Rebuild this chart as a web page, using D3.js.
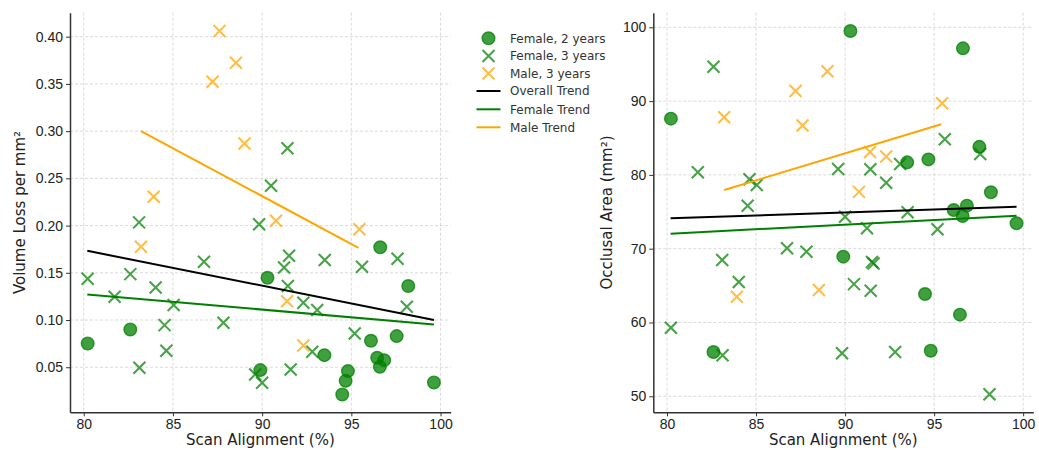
<!DOCTYPE html>
<html>
<head>
<meta charset="utf-8">
<script src="https://cdn.jsdelivr.net/npm/d3@7"></script>
<style>
  body { margin: 0; background: #fff; }
  svg { display: block; font-family: "DejaVu Sans", sans-serif; }
  .grid line { stroke: #d0d0d0; stroke-dasharray: 3,2; stroke-width: 0.8; }
  .axis path, .axis line { stroke: #333; }
  .axis text { fill: #222; font-size: 14px; }
</style>
</head>
<body>
<svg id="chart" width="1039" height="450"></svg>
<script>
// Female, 2 years
const femaleTwoX    = [80.22, 82.61, 89.90, 90.30, 93.49, 94.49, 94.68, 94.81, 96.10, 96.45, 96.60, 96.62, 96.84, 97.54, 98.19, 99.63];
const femaleTwoVol  = [0.0752, 0.0900, 0.0470, 0.1447, 0.0628, 0.0212, 0.0356, 0.0459, 0.0780, 0.0600, 0.0504, 0.1770, 0.0575, 0.0830, 0.1360, 0.0339];
const femaleTwoArea = [87.62, 56.0, 68.92, 99.5, 81.7, 63.86, 82.1, 56.18, 75.24, 61.06, 74.43, 97.15, 75.83, 83.8, 77.64, 73.44];

// Female, 3 years
const femaleThreeX    = [80.22, 81.73, 82.61, 83.10, 83.12, 84.03, 84.53, 84.63, 85.04, 86.74, 87.83, 89.61, 89.83, 90.00, 90.50, 91.23, 91.42, 91.44, 91.51, 91.60, 92.31, 92.81, 93.09, 93.51, 95.19, 95.60, 97.59, 98.11];
const femaleThreeVol  = [0.1437, 0.1246, 0.1486, 0.2034, 0.0494, 0.1345, 0.0946, 0.0674, 0.1158, 0.1617, 0.0970, 0.0424, 0.2013, 0.0335, 0.2422, 0.1557, 0.2818, 0.1360, 0.1680, 0.0477, 0.1182, 0.0663, 0.1105, 0.1635, 0.0858, 0.1564, 0.1650, 0.1140];
const femaleThreeArea = [59.3, 80.35, 94.66, 68.47, 55.55, 65.5, 75.83, 79.4, 78.63, 70.05, 69.6, 80.8, 55.83, 74.34, 65.2, 72.76, 80.76, 64.3, 68.2, 68.0, 78.94, 56.0, 81.48, 74.93, 72.63, 84.82, 82.83, 50.27];

// Male, 3 years
const maleThreeX    = [83.21, 87.22, 87.61, 89.01, 95.45, 91.40, 92.31, 90.78, 83.92, 88.53];
const maleThreeVol  = [0.1775, 0.3523, 0.4060, 0.2870, 0.1960, 0.1200, 0.0731, 0.2050, 0.2305, 0.3725];
const maleThreeArea = [87.8, 91.37, 86.7, 94.04, 89.7, 83.1, 82.5, 77.7, 63.5, 64.4];

// Trend lines (start / end)
const trendNames     = ["Overall Trend", "Female Trend", "Male Trend"];
const trendX         = [[80.2, 99.63], [80.2, 99.63], [83.21, 95.4]];
const trendVol       = [[0.1733, 0.1000], [0.1271, 0.0953], [0.3000, 0.1765]];
const trendArea      = [[74.12, 75.70], [72.03, 74.47], [77.95, 86.86]];
const trendColors    = ["#000000", "#008000", "#ffa500"];

const volTicks  = [0.05, 0.10, 0.15, 0.20, 0.25, 0.30, 0.35, 0.40];
const areaTicks = [50, 60, 70, 80, 90, 100];
const xTicks    = [80, 85, 90, 95, 100];

const svg = d3.select("#chart");

const groups = [
  { name: "Female, 2 years", x: femaleTwoX, vol: femaleTwoVol, area: femaleTwoArea, shape: "circle", color: "#008000" },
  { name: "Female, 3 years", x: femaleThreeX, vol: femaleThreeVol, area: femaleThreeArea, shape: "x", color: "#008000" },
  { name: "Male, 3 years", x: maleThreeX, vol: maleThreeVol, area: maleThreeArea, shape: "x", color: "#ffa500" }
];

function xMark(s) {
  return `M${-s},${-s}L${s},${s}M${-s},${s}L${s},${-s}`;
}

function drawMarker(sel, shape, color) {
  if (shape === "circle") {
    sel.append("circle")
      .attr("r", 6.3)
      .attr("fill", color).attr("fill-opacity", 0.75)
      .attr("stroke", color).attr("stroke-opacity", 0.75)
      .attr("stroke-width", 1.4);
  } else {
    sel.append("path")
      .attr("d", xMark(6))
      .attr("fill", "none")
      .attr("stroke", color).attr("stroke-opacity", 0.72)
      .attr("stroke-width", 2.1);
  }
}

// Draws one scatter panel
function drawPanel(left, right, key, yDomain, yTicks, yFormat, yLabel, labelX, trendKey) {
  const top = 12.7, bottom = 412.3;
  const x = d3.scaleLinear().domain([79.23, 100.57]).range([left, right]);
  const y = d3.scaleLinear().domain(yDomain).range([bottom, top]);
  const g = svg.append("g");

  // grid
  const grid = g.append("g").attr("class", "grid");
  grid.selectAll(".vx").data(xTicks).enter().append("line")
    .attr("x1", d => x(d)).attr("x2", d => x(d))
    .attr("y1", top).attr("y2", bottom);
  grid.selectAll(".hy").data(yTicks).enter().append("line")
    .attr("x1", left).attr("x2", right)
    .attr("y1", d => y(d)).attr("y2", d => y(d));

  // axes (left + bottom spines only)
  const xAxis = g.append("g").attr("class", "axis")
    .attr("transform", `translate(0,${bottom})`)
    .call(d3.axisBottom(x).tickValues(xTicks).tickSizeInner(4).tickSizeOuter(0).tickPadding(3).tickFormat(d3.format("d")));
  const yAxis = g.append("g").attr("class", "axis")
    .attr("transform", `translate(${left},0)`)
    .call(d3.axisLeft(y).tickValues(yTicks).tickSizeInner(4).tickSizeOuter(0).tickPadding(3).tickFormat(yFormat));
  [xAxis, yAxis].forEach(a => {
    a.select(".domain").attr("stroke-width", 1.5);
    a.selectAll(".tick line").attr("stroke-width", 1);
  });

  // labels
  g.append("text")
    .attr("x", (left + right) / 2).attr("y", 445)
    .attr("text-anchor", "middle")
    .attr("font-size", 15).attr("fill", "#222")
    .text("Scan Alignment (%)");
  g.append("text")
    .attr("transform", `translate(${labelX},${(top + bottom) / 2}) rotate(-90)`)
    .attr("text-anchor", "middle")
    .attr("font-size", 15).attr("fill", "#222")
    .text(yLabel);

  // scatter
  groups.forEach(grp => {
    const pts = grp.x.map((v, i) => [v, grp[key][i]]);
    const m = g.append("g").selectAll("g").data(pts).enter().append("g")
      .attr("transform", d => `translate(${x(d[0])},${y(d[1])})`);
    drawMarker(m, grp.shape, grp.color);
  });

  // trends
  const line = d3.line().x(d => x(d[0])).y(d => y(d[1]));
  trendNames.forEach((n, i) => {
    const pts = trendX[i].map((v, j) => [v, trendKey[i][j]]);
    g.append("path")
      .attr("d", line(pts))
      .attr("fill", "none")
      .attr("stroke", trendColors[i])
      .attr("stroke-width", 2);
  });
}

drawPanel(70, 450.7, "vol", [0.0023, 0.4254], volTicks, d3.format(".2f"), "Volume Loss per mm²", 25, trendVol);
drawPanel(653.3, 1033.3, "area", [47.83, 101.98], areaTicks, d3.format("d"), "Occlusal Area (mm²)", 612, trendArea);

// legend
const legend = svg.append("g");
const rowY = [38.3, 56, 73.5, 91, 109.3, 127.3];
groups.forEach((grp, i) => {
  const r = legend.append("g").attr("transform", `translate(488.5,${rowY[i]})`);
  drawMarker(r, grp.shape, grp.color);
});
trendNames.forEach((n, i) => {
  legend.append("line")
    .attr("x1", 476.5).attr("x2", 500.5)
    .attr("y1", rowY[i + 3]).attr("y2", rowY[i + 3])
    .attr("stroke", trendColors[i]).attr("stroke-width", 2);
});
legend.selectAll(".lt").data(groups.map(g => g.name).concat(trendNames)).enter().append("text")
  .attr("x", 510).attr("y", (d, i) => rowY[i] + 4.3)
  .attr("font-size", 12).attr("fill", "#333")
  .text(d => d);
</script>
</body>
</html>
